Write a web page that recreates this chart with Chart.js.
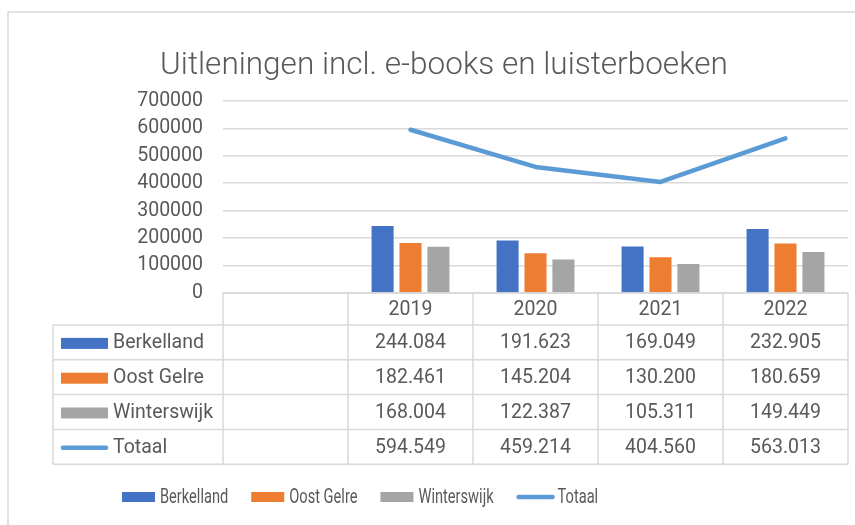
<!DOCTYPE html>
<html lang="nl">
<head>
<meta charset="UTF-8">
<title>Uitleningen incl. e-books en luisterboeken</title>
<style>
  html, body { margin: 0; padding: 0; background: #fff; overflow: hidden; }
  #wrap { width: 855px; height: 525px; }
</style>
</head>
<body>
<div id="wrap"><canvas id="chart" width="855" height="525"></canvas></div>
<script src="https://cdn.jsdelivr.net/npm/chart.js"></script>
<script>
// categorieen (eerste kolom is leeg, zoals in het origineel)
const categories = ['', '2019', '2020', '2021', '2022'];
const berkelland = [null, 244084, 191623, 169049, 232905];
const oostGelre = [null, 182461, 145204, 130200, 180659];
const winterswijk = [null, 168004, 122387, 105311, 149449];
const totaal = [null, 594549, 459214, 404560, 563013];
const yMin = 0, yMax = 700000, yStep = 100000;

const FONT = 'Roboto, "Liberation Sans", sans-serif';
const TEXT = '#595959';
const LINE = '#d9d9d9';

const series = [
  { label: 'Berkelland', data: berkelland, color: '#4472C4', kind: 'bar' },
  { label: 'Oost Gelre', data: oostGelre, color: '#ED7D31', kind: 'bar' },
  { label: 'Winterswijk', data: winterswijk, color: '#A5A5A5', kind: 'bar' },
  { label: 'Totaal', data: totaal, color: '#5B9BD5', kind: 'line' }
];

function fmt(v) {
  if (v === null) return '';
  return String(v).replace(/\B(?=(\d{3})+(?!\d))/g, '.');
}

function drawKey(ctx, s, x, y, w, h) {
  ctx.save();
  if (s.kind === 'bar') {
    ctx.fillStyle = s.color;
    ctx.fillRect(x, y - h / 2, w, h);
  } else {
    ctx.strokeStyle = s.color;
    ctx.lineWidth = 4.5;
    ctx.lineCap = 'round';
    ctx.beginPath();
    ctx.moveTo(x + 2, y);
    ctx.lineTo(x + w - 2, y);
    ctx.stroke();
  }
  ctx.restore();
}

// rand, gegevenstabel en legenda
const tablePlugin = {
  id: 'dataTable',
  beforeDraw(chart) {
    const ctx = chart.ctx;
    ctx.save();
    ctx.strokeStyle = LINE;
    ctx.lineWidth = 1.5;
    ctx.beginPath();
    ctx.moveTo(8, 525);
    ctx.lineTo(8, 12);
    ctx.lineTo(855, 12);
    ctx.stroke();
    ctx.restore();
  },
  afterDraw(chart) {
    const ctx = chart.ctx;
    const xs = chart.scales.x;
    const top = chart.chartArea.bottom;
    const colW = xs.getPixelForValue(1) - xs.getPixelForValue(0);
    const edges = categories.map((c, i) => xs.getPixelForValue(i) - colW / 2);
    edges.push(edges[edges.length - 1] + colW);
    const left = edges[0], right = edges[edges.length - 1];
    const labelLeft = 53;
    const headH = 32, rowH = 34.8;
    const rowsTop = top + headH;

    ctx.save();
    ctx.strokeStyle = LINE;
    ctx.lineWidth = 1.5;
    ctx.beginPath();
    // horizontale lijnen
    ctx.moveTo(left, top); ctx.lineTo(right, top);
    for (let r = 0; r <= series.length; r++) {
      const y = rowsTop + r * rowH;
      ctx.moveTo(labelLeft, y); ctx.lineTo(right, y);
    }
    // verticale lijnen
    const bottom = rowsTop + series.length * rowH;
    ctx.moveTo(labelLeft, rowsTop); ctx.lineTo(labelLeft, bottom);
    edges.forEach(e => { ctx.moveTo(e, top); ctx.lineTo(e, bottom); });
    ctx.stroke();

    ctx.fillStyle = TEXT;
    ctx.font = '19.5px ' + FONT;
    ctx.textAlign = 'center';
    ctx.textBaseline = 'middle';
    categories.forEach((c, i) => {
      ctx.fillText(c, xs.getPixelForValue(i), top + headH / 2 + 1);
    });
    series.forEach((s, r) => {
      const cy = rowsTop + r * rowH + rowH / 2 + 1;
      drawKey(ctx, s, 61, cy, 47, 11);
      ctx.textAlign = 'left';
      ctx.fillStyle = TEXT;
      ctx.fillText(s.label, 113, cy);
      ctx.textAlign = 'center';
      s.data.forEach((v, i) => {
        ctx.fillText(fmt(v), xs.getPixelForValue(i), cy);
      });
    });

    // legenda onderaan (tekst smaller, zoals in het origineel)
    ctx.font = '19.5px ' + FONT;
    ctx.textAlign = 'left';
    const squeeze = 0.75;
    let lx = 122;
    const ly = 497;
    series.forEach(s => {
      const kw = s.kind === 'bar' ? 33 : 38;
      drawKey(ctx, s, lx, ly, kw, 10);
      lx += kw + (s.kind === 'bar' ? 5 : 3);
      ctx.save();
      ctx.translate(lx, ly);
      ctx.scale(squeeze, 1);
      ctx.fillStyle = TEXT;
      ctx.fillText(s.label, 0, 1);
      ctx.restore();
      lx += ctx.measureText(s.label).width * squeeze + 23;
    });
    ctx.restore();
  }
};

const datasets = series.map(s => s.kind === 'bar' ? {
  type: 'bar',
  label: s.label,
  data: s.data,
  backgroundColor: s.color,
  barPercentage: 0.79,
  categoryPercentage: 0.67,
  order: 1
} : {
  type: 'line',
  label: s.label,
  data: s.data,
  borderColor: s.color,
  borderWidth: 4.5,
  borderCapStyle: 'round',
  borderJoinStyle: 'round',
  pointRadius: 0,
  tension: 0,
  order: 0
});

new Chart(document.getElementById('chart'), {
  type: 'bar',
  data: { labels: categories, datasets: datasets },
  options: {
    responsive: false,
    animation: false,
    layout: { padding: { left: 40, right: 7, top: 0, bottom: 232 } },
    plugins: {
      legend: { display: false },
      tooltip: { enabled: false },
      title: {
        display: true,
        text: 'Uitleningen incl. e-books en luisterboeken',
        color: TEXT,
        font: { family: FONT, size: 31.5, weight: '300' },
        padding: { top: 47, bottom: 16 }
      }
    },
    scales: {
      x: { display: false },
      y: {
        min: yMin,
        max: yMax,
        afterFit(scale) { scale.width = 183; },
        ticks: {
          stepSize: yStep,
          color: TEXT,
          padding: 20,
          font: { family: FONT, size: 19.5 },
          callback: v => String(v)
        },
        grid: { color: LINE, lineWidth: 1.5, drawTicks: false },
        border: { display: false }
      }
    }
  },
  plugins: [tablePlugin]
});
</script>
</body>
</html>
